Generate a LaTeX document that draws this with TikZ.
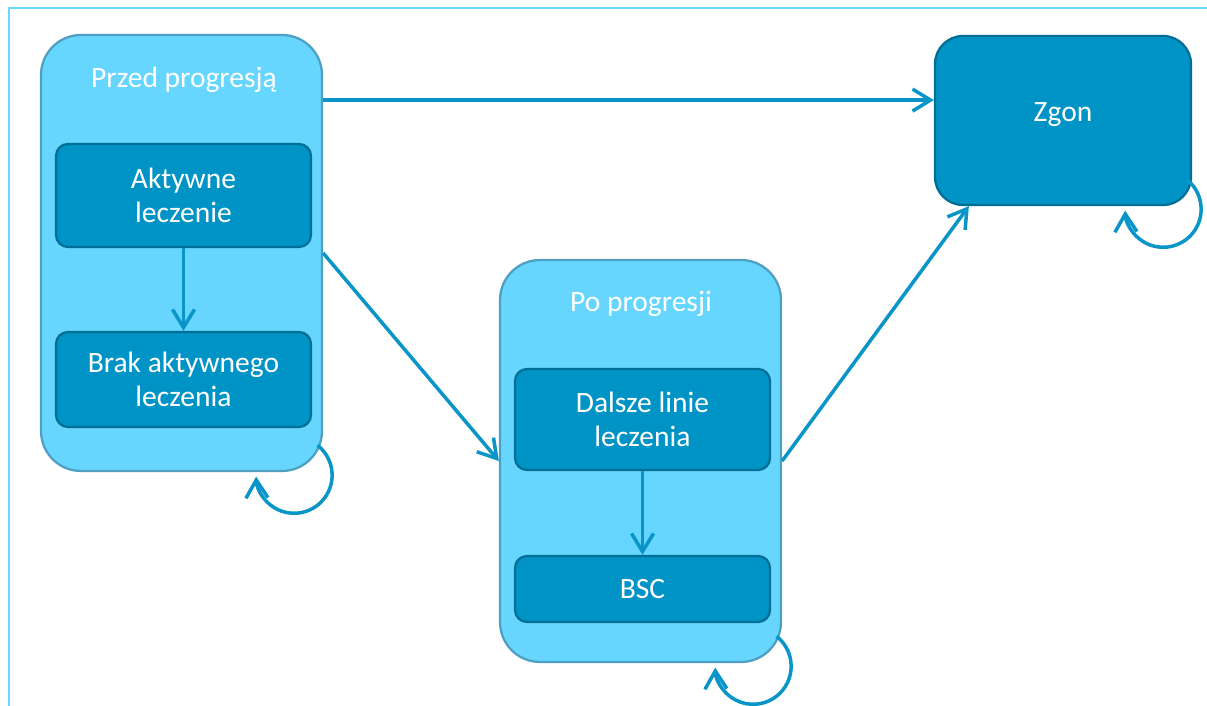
\documentclass[tikz,border=0pt]{standalone}
\usepackage{fontspec}
\setmainfont{Carlito}
\usetikzlibrary{arrows.meta, positioning, calc}
\definecolor{frameblue}{HTML}{6AD8FF}
\definecolor{stagefill}{HTML}{66D6FF}
\definecolor{stageline}{HTML}{4E9FC2}
\definecolor{boxfill}{HTML}{0093C6}
\definecolor{boxline}{HTML}{006F96}
\definecolor{arrowblue}{HTML}{0A95C8}

\begin{document}
\begin{tikzpicture}[
  stage/.style={fill=stagefill, draw=stageline, line width=1.6pt, rounded corners=1cm},
  statebox/.style={fill=boxfill, draw=boxline, line width=1.6pt, rounded corners=0.3cm,
    text=white, font=\fontsize{21}{24.5}\selectfont, align=center,
    minimum width=6.375cm},
  stagetitle/.style={text=white, font=\fontsize{21}{24}\selectfont},
  flow/.style={arrowblue, line width=2.5pt, -{Straight Barb[length=4.5mm, width=5.5mm]}}
]

\useasboundingbox (0,0) rectangle (30.175,17.65);

% Frame
\draw[frameblue, line width=2pt] (0.225,0) -- (0.225,17.45) -- (30.175,17.45);

% --- Before progression ---
\node[stage, minimum width=7.025cm, minimum height=10.9cm] (przed) at (4.5375,11.325) {};
\node[stagetitle] (przedtitle) at (4.6,15.65) {Przed progresją};
\node[statebox, minimum height=2.575cm] (aktywne) at (4.5875,12.7625) {Aktywne\\leczenie};
\node[statebox, minimum height=2.375cm] (brak) at (4.5875,8.1625) {Brak aktywnego\\leczenia};

% --- After progression ---
\node[stage, minimum width=7.025cm, minimum height=10.05cm] (po) at (16.0125,6.125) {};
\node[stagetitle] (potitle) at (16.025,10.05) {Po progresji};
\node[statebox, minimum height=2.525cm] (dalsze) at (16.0625,7.1625) {Dalsze linie\\leczenia};
\node[statebox, minimum height=1.65cm] (bsc) at (16.0625,2.925) {BSC};

% --- Death ---
\node[statebox, rounded corners=0.7cm, minimum width=6.4cm, minimum height=4.225cm,
  text depth=0.4cm] (zgon) at (26.575,14.6375) {Zgon};

% Transitions
\coordinate (zgonin) at ([yshift=0.51cm]zgon.west);
\coordinate (zgonlow) at ([xshift=0.875cm]zgon.south west);
\draw[flow] (przed.east |- zgonin) -- (zgonin);
\draw[flow] (przed.east) -- (po.west);
\draw[flow] (po.east) -- (zgonlow);
\draw[flow] (aktywne.south) -- (brak.north);
\draw[flow] (dalsze.south) -- (bsc.north);

% Self loops
\draw[flow] ([shift={(-0.14,0.67)}]przed.south east) arc[start angle=52, end angle=-178, radius=0.95cm];
\draw[flow] ([shift={(-0.14,0.67)}]po.south east) arc[start angle=52, end angle=-178, radius=0.95cm];
\draw[flow] ([shift={(-0.14,0.67)}]zgon.south east) arc[start angle=52, end angle=-178, radius=0.95cm];

\end{tikzpicture}
\end{document}
